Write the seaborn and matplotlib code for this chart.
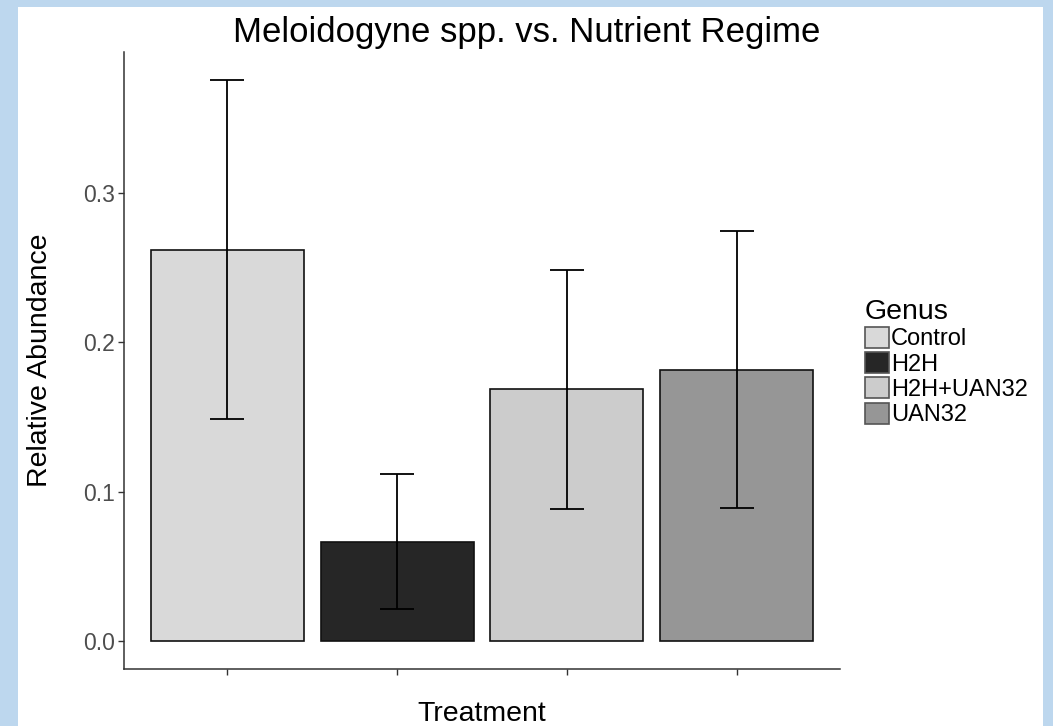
import matplotlib
matplotlib.use("Agg")
import matplotlib.pyplot as plt
import matplotlib.patches as mpatches
import seaborn as sns
import pandas as pd

treatments = ["Control", "H2H", "H2H+UAN32", "UAN32"]
abundance = [0.262, 0.0665, 0.1688, 0.1815]
err_low = [0.149, 0.0214, 0.0884, 0.0888]
err_high = [0.3755, 0.1117, 0.2488, 0.2745]
colors = ["#D9D9D9", "#262626", "#CCCCCC", "#969696"]
yticks = [0.0, 0.1, 0.2, 0.3]

df = pd.DataFrame({"Treatment": treatments, "Relative Abundance": abundance,
                   "lo": err_low, "hi": err_high})

sns.set_theme(style="white")
plt.rcParams["font.family"] = ["Liberation Sans", "DejaVu Sans"]
plt.rcParams["text.color"] = "black"

W, H = 1053, 726
fig = plt.figure(figsize=(W / 100, H / 100), dpi=100)
fig.patch.set_facecolor("#BDD7EE")
bg = mpatches.Rectangle((18 / W, 0), (1043 - 18) / W, (H - 7) / H,
                        transform=fig.transFigure, facecolor="white",
                        edgecolor="none", zorder=-10)
fig.patches.append(bg)
ax = fig.add_axes([124 / W, (H - 669) / H, 716 / W, 617 / H])
ax.set_zorder(2)
ax.set_facecolor("none")

sns.barplot(data=df, x="Treatment", y="Relative Abundance", hue="Treatment",
            palette=dict(zip(treatments, colors)), dodge=False, width=0.9,
            errorbar=None, edgecolor="#111111", linewidth=1.2, legend=True, ax=ax)

for bar, lo, hi in zip(ax.patches, df["lo"], df["hi"]):
    cx = bar.get_x() + bar.get_width() / 2
    ax.vlines(cx, lo, hi, color="black", linewidth=1.3, zorder=5)
    ax.hlines([lo, hi], cx - 0.1, cx + 0.1, color="black", linewidth=1.3, zorder=5)

ax.set_xlim(-0.606, 3.606)
ax.set_ylim(-0.01875, 0.3945)
ax.set_yticks(yticks)
ax.set_yticklabels([f"{v:.1f}" for v in yticks])
ax.set_xticks(range(len(treatments)))
ax.set_xticklabels([])
for s in ["top", "right"]:
    ax.spines[s].set_visible(False)
for s in ["left", "bottom"]:
    ax.spines[s].set_color("#333333")
    ax.spines[s].set_linewidth(1.1)
ax.tick_params(axis="both", which="both", direction="out", length=4.5, width=1.0,
               color="#333333", left=True, bottom=True)
ax.tick_params(axis="y", labelsize=16.5, labelcolor="#4D4D4D", pad=2)

ax.set_xlabel("Treatment", fontsize=20.5, color="black")
ax.xaxis.label.set_va("baseline")
ax.xaxis.set_label_coords(0.5, (669 - 721) / 617)
ax.set_ylabel("Relative Abundance", fontsize=20.5, color="black")
ax.yaxis.label.set_va("baseline")
ax.yaxis.set_label_coords((47 - 124) / 716, 0.5)

fig.text(0.5, (H - 42) / H, "Meloidogyne spp. vs. Nutrient Regime", fontsize=25,
         ha="center", va="baseline", color="black")

handles, labels = ax.get_legend_handles_labels()
if ax.get_legend():
    ax.get_legend().remove()
leg = fig.legend(handles, labels, title="Genus", loc="upper left",
                 bbox_to_anchor=(865 / W, (H - 299) / H), frameon=False,
                 fontsize=17, title_fontsize=20.5, handlelength=1.0, handleheight=1.0,
                 labelspacing=0.07, handletextpad=0.1, borderpad=0, borderaxespad=0)
leg._legend_box.align = "left"
for t in leg.get_texts():
    t.set_color("black")
leg.get_title().set_color("black")
for h in leg.legend_handles:
    h.set_edgecolor("#555555")
    h.set_linewidth(1.2)

fig.savefig("out.png", dpi=100)
